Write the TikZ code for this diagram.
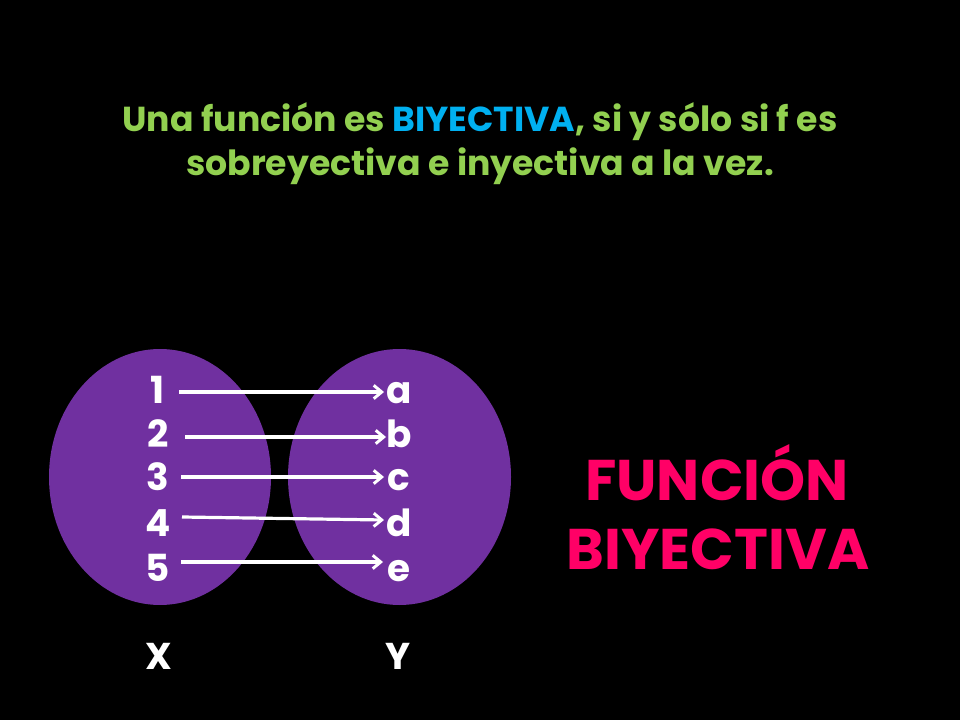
\documentclass[tikz,border=0pt]{standalone}
\usepackage{fontspec}
\setmainfont{Poppins}
\usetikzlibrary{arrows.meta}
\definecolor{setpurple}{HTML}{7030A0}
\definecolor{titlegreen}{HTML}{92D050}
\definecolor{titleblue}{HTML}{00B0F0}
\definecolor{hotpink}{HTML}{FF0066}
\tikzset{
  setblob/.style={fill=setpurple,draw=none},
  elem/.style={text=white,font=\fontsize{28}{28}\selectfont\bfseries,anchor=base,inner sep=0pt},
  maparrow/.style={white,line width=2.4pt,-{Straight Barb[length=6pt,width=10pt,line width=2.2pt]}},
  bigpink/.style={anchor=base,inner sep=0pt,text=hotpink,font=\fontsize{43}{43}\selectfont\bfseries},
}
\begin{document}
\begin{tikzpicture}[x=0.75pt,y=-0.75pt]
\fill[black] (0,0) rectangle (960,720);
\useasboundingbox (0,0) rectangle (960,720);
\node[anchor=base,inner sep=0pt,align=center,text=titlegreen,font=\fontsize{26}{33}\selectfont\bfseries] (title) at (480,176)
  {Una función es \textcolor{titleblue}{BIYECTIVA}, si y sólo si f es\\ sobreyectiva e inyectiva a la vez.};
\fill[setblob] (160,477) ellipse [x radius=111,y radius=128];
\fill[setblob] (399.5,477) ellipse [x radius=111.5,y radius=128];
\node[elem] (n1) at (158,403) {1};
\node[elem] (n2) at (158,447) {2};
\node[elem] (n3) at (158,490) {3};
\node[elem] (n4) at (158,536) {4};
\node[elem] (n5) at (158,581) {5};
\node[elem] (la) at (399,403) {a};
\node[elem] (lb) at (399,447) {b};
\node[elem] (lc) at (399,490) {c};
\node[elem] (ld) at (399,536) {d};
\node[elem] (le) at (399,581) {e};
\coordinate (s1) at (179,392); \coordinate (t1) at (384,392);
\coordinate (s2) at (185,437); \coordinate (t2) at (386,437);
\coordinate (s3) at (181,477); \coordinate (t3) at (384,477);
\coordinate (s4) at (182,517); \coordinate (t4) at (384,520);
\coordinate (s5) at (181,562); \coordinate (t5) at (383,562);
\draw[maparrow] (s1) -- (t1);
\draw[maparrow] (s2) -- (t2);
\draw[maparrow] (s3) -- (t3);
\draw[maparrow] (s4) -- (t4);
\draw[maparrow] (s5) -- (t5);
\node[elem] (X) at (159,669) {X};
\node[elem] (Y) at (398,669) {Y};
\node[bigpink] (f1) at (717,500) {FUNCIÓN};
\node[bigpink] (f2) at (718,569) {BIYECTIVA};
\end{tikzpicture}
\end{document}
